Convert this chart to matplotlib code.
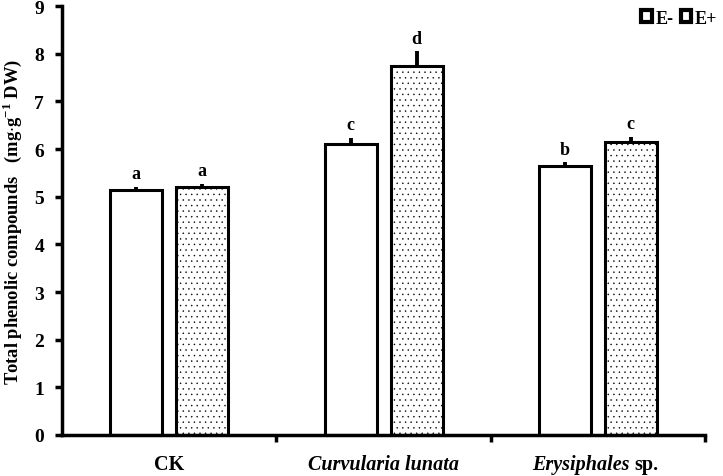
import matplotlib.pyplot as plt
import numpy as np

plt.rcParams['font.family'] = ['Liberation Serif', 'DejaVu Serif']
plt.rcParams['mathtext.fontset'] = 'custom'
plt.rcParams['mathtext.rm'] = 'Liberation Serif:bold'
plt.rcParams['mathtext.bf'] = 'Liberation Serif:bold'
plt.rcParams['hatch.color'] = '#bcbcbc'
plt.rcParams['hatch.linewidth'] = 0.3

groups = ['CK', 'Curvularia lunata', 'Erysiphales sp.']
e_minus = [5.15, 6.10, 5.65]
e_plus = [5.20, 7.75, 6.15]
err_minus = [0.05, 0.13, 0.07]
err_plus = [0.07, 0.30, 0.10]
letters_minus = ['a', 'c', 'b']
letters_plus = ['a', 'd', 'c']

fig = plt.figure(figsize=(7.23, 4.77), dpi=100)
ax = fig.add_axes([0.086, 0.086, 0.889, 0.899])

x = np.arange(len(groups))
w = 0.243
off = 0.154
zeros = [0] * len(groups)
ax.bar(x - off, e_minus, w, color='white', edgecolor='black', linewidth=2.2,
       yerr=[zeros, err_minus], error_kw=dict(ecolor='black', elinewidth=2.8, capsize=0),
       label='E-')
ax.bar(x + off, e_plus, w, color='white', edgecolor='black', linewidth=2.2, hatch='...',
       yerr=[zeros, err_plus], error_kw=dict(ecolor='black', elinewidth=2.8, capsize=0),
       label='E+')

for xi, v, e, t in zip(x - off, e_minus, err_minus, letters_minus):
    ax.text(xi, v + e + 0.1, t, ha='center', va='bottom', fontsize=13, fontweight='bold')
for xi, v, e, t in zip(x + off, e_plus, err_plus, letters_plus):
    ax.text(xi, v + e + 0.1, t, ha='center', va='bottom', fontsize=13, fontweight='bold')

ax.set_xlim(-0.5, 2.5)
ax.set_ylim(0, 9)
ax.set_yticks(range(10))
ax.set_xticks(x)
ax.set_xticks([0.5, 1.5, 2.5], minor=True)
ax.set_xticklabels([])
ax.tick_params(axis='x', which='major', length=0)
ax.tick_params(axis='x', which='minor', length=5, width=2.5, direction='out')
ax.tick_params(axis='y', length=5, width=2.5, direction='out', labelsize=14, pad=8)
for s in ['top', 'right']:
    ax.spines[s].set_visible(False)
for s in ['left', 'bottom']:
    ax.spines[s].set_linewidth(2.5)
for lab in ax.get_yticklabels():
    lab.set_fontweight('bold')

ty = -0.6
fs = 14.5
ax.text(0, ty, 'CK', ha='center', va='center', fontsize=fs, fontweight='bold')
ax.text(1, ty, 'Curvularia lunata', ha='center', va='center', fontsize=fs,
        fontweight='bold', style='italic')
ax.text(2.15, ty, 'Erysiphales', ha='right', va='center', fontsize=fs,
        fontweight='bold', style='italic')
ax.text(2.17, ty, 'sp.', ha='left', va='center', fontsize=fs, fontweight='bold')

ax.set_ylabel(r'Total phenolic compounds   (mg$\cdot$g$^{-1}$ DW)',
              fontsize=13.3, fontweight='bold')
ax.yaxis.set_label_coords(-0.06, 0.5)

leg = ax.legend(loc='upper right', bbox_to_anchor=(1.045, 1.03), ncol=2, frameon=False,
                prop={'weight': 'bold', 'size': 13}, handlelength=0.6, handleheight=0.6,
                handletextpad=0.2, columnspacing=0.4)
for h in leg.legend_handles:
    h.set_hatch(None)
    h.set_linewidth(3)

fig.savefig('out.png', dpi=100)
